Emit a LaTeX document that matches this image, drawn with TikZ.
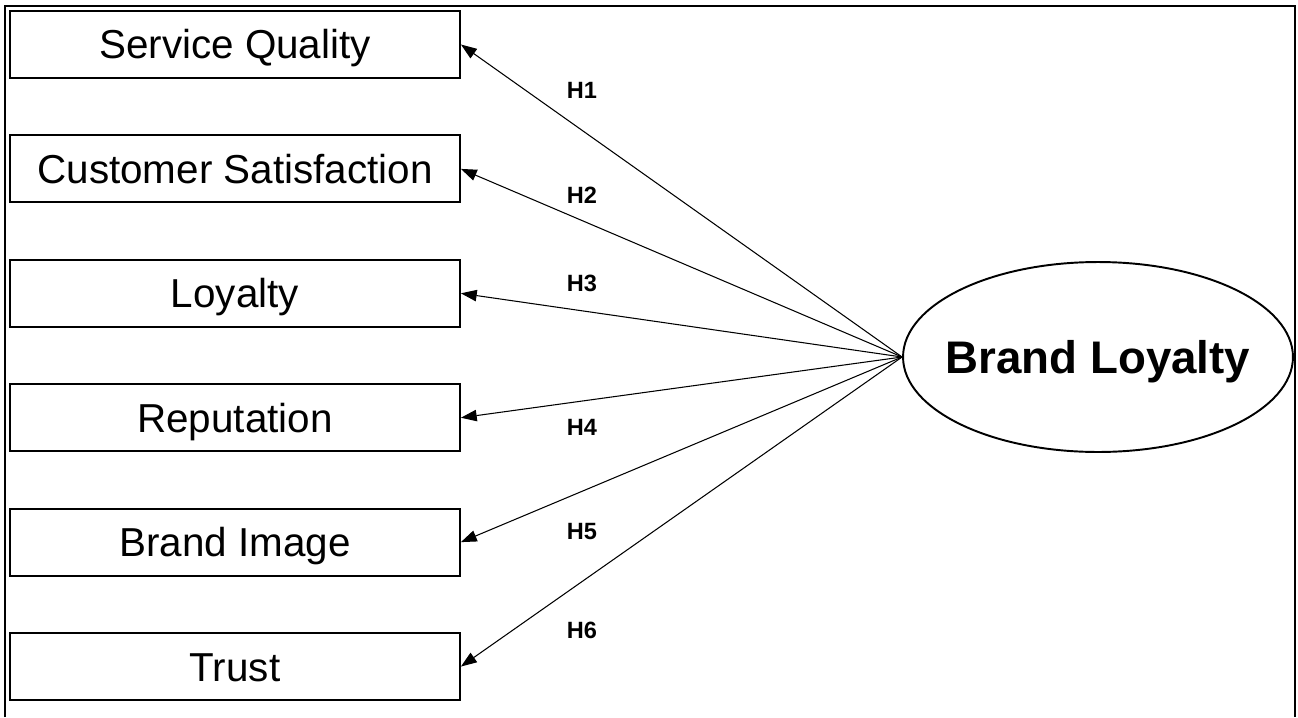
\documentclass[tikz,border=0pt]{standalone}
\usepackage{fontspec}
\setmainfont{Liberation Sans}
\usetikzlibrary{positioning,shapes.geometric,arrows.meta}

\begin{document}
\begin{tikzpicture}[x=0.02cm,y=-0.02cm,
                    every node/.style={font=\fontsize{23}{26}\selectfont},
                    construct/.style={draw,line width=1.1pt,minimum width=9cm,minimum height=1.34cm,inner sep=0pt,
                                      text height=16.5pt,text depth=0pt},
                    latent/.style={ellipse,draw,line width=1.1pt,minimum width=7.8cm,minimum height=3.8cm,inner sep=0pt},
                    latenttext/.style={font=\fontsize{26}{30}\selectfont\bfseries,text height=18.6pt,text depth=0pt},
                    hypline/.style={line width=0.6pt,-{Triangle[length=9pt,width=6.5pt]}},
                    hyp/.style={font=\fontsize{13.4}{15}\selectfont\bfseries}]
\useasboundingbox (0,0) rectangle (1298,717);
\draw[line width=1.3pt] (5,717) -- (5,6) -- (1295,6) -- (1295,717);

% constructs
\node[construct] (sq) at (235,44.5) {Service Quality};
\node[construct, below=1.11cm of sq] (cs) {Customer Satisfaction};
\node[construct, below=1.11cm of cs] (loy) {Loyalty};
\node[construct, below=1.11cm of loy] (rep) {Reputation};
\node[construct, below=1.11cm of rep] (bi) {Brand Image};
\node[construct, below=1.11cm of bi] (tr) {Trust};

\node[latent] (bl) at (1098,357) {};
\node[latenttext] (bltext) at (bl) {Brand Loyalty};

% hypotheses
\draw[hypline] (bl.west) -- (sq.east);
\draw[hypline] (bl.west) -- (cs.east);
\draw[hypline] (bl.west) -- (loy.east);
\draw[hypline] (bl.west) -- (rep.east);
\draw[hypline] (bl.west) -- (bi.east);
\draw[hypline] (bl.west) -- (tr.east);

\node[hyp] (h1) at (582,90) {H1};
\node[hyp] (h2) at (582,195) {H2};
\node[hyp] (h3) at (582,283) {H3};
\node[hyp] (h4) at (582,427) {H4};
\node[hyp] (h5) at (582,532) {H5};
\node[hyp] (h6) at (582,630) {H6};
\end{tikzpicture}
\end{document}
